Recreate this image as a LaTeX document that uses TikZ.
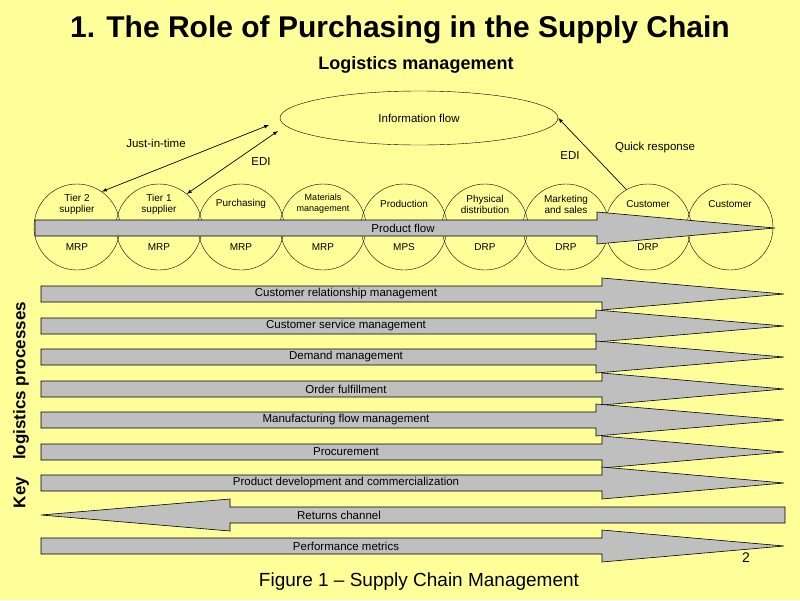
\documentclass[tikz,border=0pt]{standalone}
\usepackage{fontspec}
\setmainfont{Liberation Sans}
\usetikzlibrary{shapes.geometric}
\begin{document}
\begin{tikzpicture}[x=1pt,y=-1pt,
  circ/.style={draw,circle,minimum size=86pt,inner sep=0pt},
  lab/.style={font=\fontsize{10}{11}\selectfont,align=center},
  band/.style={draw,fill=black!25,line width=0.6pt},
  blab/.style={font=\fontsize{11.5}{12}\selectfont,inner sep=0pt},
  conn/.style={-latex,line width=0.7pt}]
\fill[fill={rgb,255:red,255;green,255;blue,153}] (0,0) rectangle (800,600);
\node[font=\bfseries\fontsize{30}{33}\selectfont] (title) at (400,30) {1. The Role of Purchasing in the Supply Chain};
\node[font=\bfseries\fontsize{18}{20}\selectfont] (lm) at (416,65) {Logistics management};
\node[draw,ellipse,minimum width=278pt,minimum height=54pt,inner sep=0pt,font=\fontsize{11.5}{12}\selectfont] (info) at (419,118) {Information flow};
\foreach \i/\x in {1/77,2/159,3/241,4/323,5/404,6/485,7/566,8/648,9/730}
  \node[circ] (c\i) at (\x,227) {};
\foreach \i/\t in {1/{Tier 2\\supplier},2/{Tier 1\\supplier},3/Purchasing,4/{\fontsize{9}{10}\selectfont Materials\\\fontsize{9}{10}\selectfont management},5/Production,6/{Physical\\distribution},7/{Marketing\\and sales},8/Customer,9/Customer}
  \node[lab] (t\i) at ([yshift=23pt]c\i) {\t};
\foreach \i/\t in {1/MRP,2/MRP,3/MRP,4/MRP,5/MPS,6/DRP,7/DRP,8/DRP}
  \node[lab] (b\i) at ([yshift=-20pt]c\i) {\t};
% product flow
\draw[band] (35,220) -- (597,220) -- (597,212) -- (775,228) -- (597,244) -- (597,236) -- (35,236) -- cycle;
\node[blab] (pf) at (403,228) {Product flow};
% connectors
\coordinate (j1) at (269,125); \coordinate (e1) at (278,131);
\draw[latex-latex,line width=0.7pt] (j1) -- (c1.55);
\draw[latex-latex,line width=0.7pt] (e1) -- (c2.50);
\draw[conn] (c8.120) -- (info.east);
\node[lab,font=\fontsize{11.5}{12}\selectfont] (jit) at (156,143) {Just-in-time};
\node[lab,font=\fontsize{11.5}{12}\selectfont] (edi1) at (261,162) {EDI};
\node[lab,font=\fontsize{11.5}{12}\selectfont] (edi2) at (570,156) {EDI};
\node[lab,font=\fontsize{11.5}{12}\selectfont] (qr) at (655,148) {Quick response};
% bands
\foreach \y/\hx/\t in {294/602/Customer relationship management,326/596/Customer service management,357/596/Demand management,389/602/Order fulfillment,420/596/Manufacturing flow management,452/602/Procurement,483/602/Product development and commercialization,546/602/Performance metrics}{
  \draw[band] (41,\y-8) -- (\hx,\y-8) -- (\hx,\y-16) -- (784,\y) -- (\hx,\y+16) -- (\hx,\y+8) -- (41,\y+8) -- cycle;
  \node[blab] (n\y) at (346,\y) {\t};
}
\draw[band] (785,507) -- (230,507) -- (230,499) -- (41,515) -- (230,531) -- (230,523) -- (785,523) -- cycle;
\node[blab] (ret) at (339,515) {Returns channel};
\node[rotate=90,font=\bfseries\fontsize{17}{20}\selectfont] (key) at (21,405) {Key\quad logistics processes};
\node[font=\fontsize{19}{22}\selectfont] (fig) at (419,582) {Figure 1 -- Supply Chain Management};
\node[font=\fontsize{14}{16}\selectfont] (pg) at (746,558) {2};
\end{tikzpicture}
\end{document}
